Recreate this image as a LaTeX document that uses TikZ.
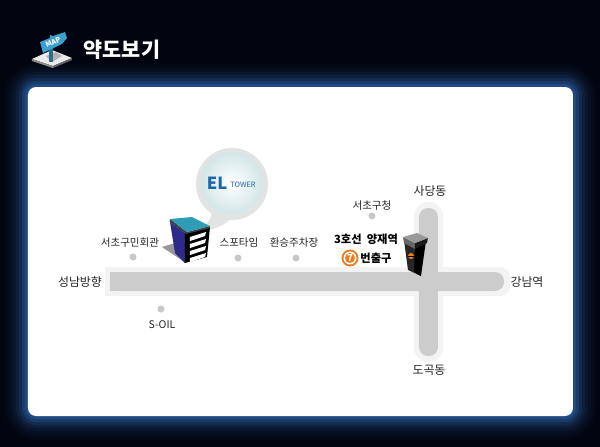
\documentclass[tikz,border=0pt]{standalone}
\usepackage{fontspec}
\setmainfont{Noto Sans CJK KR}
\usetikzlibrary{shadings}
\definecolor{night}{HTML}{02040F}
\definecolor{glow}{HTML}{22528F}
\definecolor{road}{HTML}{CCCCCC}
\definecolor{halo}{HTML}{F3F3F3}
\definecolor{spot}{HTML}{C8C8C8}
\definecolor{skyblue}{HTML}{3B9FD0}
\definecolor{eltext}{HTML}{1E66A8}
\definecolor{roof}{HTML}{2F9DB5}
\definecolor{wall}{HTML}{2E2A8C}
\definecolor{exitorange}{HTML}{F07A1E}
\definecolor{bubblerim}{HTML}{E2E4E4}
\definecolor{bubbleedge}{HTML}{D3E6E8}
\tikzset{
  place/.style={font=\fontsize{6pt}{7pt}\selectfont,text=black!85,inner sep=0pt},
  bigplace/.style={place,font=\fontsize{6.8pt}{7pt}\selectfont},
  strong/.style={place,font=\fontsize{6.4pt}{7pt}\selectfont\bfseries,text=black},
  spotmark/.style={circle,fill=spot,minimum size=4mm*.35,inner sep=0pt}
}
\begin{document}
\begin{tikzpicture}[x=.02cm,y=-.02cm]
\fill[night] (0,0) rectangle (600,447);
% glow round the panel
\foreach \r/\m in {24/4,21/9,18/15,15/23,12/34,9/50,6/70,3/90}
  \fill[glow!\m!night,rounded corners=.02cm*(8+\r)] (28-\r,87-\r) rectangle (573+\r,416+\r);
\fill[white,rounded corners=.16cm] (28,87) rectangle (573,416);
% roads
\fill[halo,rounded corners=.2cm] (105,267) rectangle (510,296);
\fill[halo] (105,267) rectangle (125,296);
\fill[halo,rounded corners=.28cm] (414,202) rectangle (443,362);
\fill[road,rounded corners=.18cm] (110,272) rectangle (504,291);
\fill[road] (110,272) rectangle (125,291);
\fill[road,rounded corners=.18cm] (419,208) rectangle (438,356);
% small marks
\node[spotmark] (hall) at (133,257) {};
\node[spotmark] (sports) at (238,258) {};
\node[spotmark] (transfer) at (296,258) {};
\node[spotmark] (office) at (372,216) {};
\node[spotmark] (oil) at (161,309) {};
% labels
\node[place] (hallname) at (130,243) {서초구민회관};
\node[place] (sportsname) at (239,243) {스포타임};
\node[place] (transfername) at (294,243) {환승주차장};
\node[place] (officename) at (372,206) {서초구청};
\node[place] (oilname) at (162,325) {S-OIL};
\node[bigplace] (west) at (80,282) {성남방향};
\node[bigplace] (east) at (527,282) {강남역};
\node[bigplace] (north) at (430,191) {사당동};
\node[bigplace] (south) at (429,370) {도곡동};
\node[strong] (station) at (366,239) {3호선\ \ 양재역};
\node[strong] (exitname) at (376,258) {번출구};
\fill[exitorange] (350,258) circle (8.5);
\fill[white] (350,258) circle (6.5);
\node[circle,fill=exitorange,text=white,minimum size=.2cm,inner sep=0pt,
  font=\fontsize{5.5pt}{6pt}\selectfont\bfseries] (exitno) at (350,258) {7};
% title with map sign
\node[font=\fontsize{11.8pt}{12pt}\selectfont\bfseries,text=white,inner sep=0pt] (title) at (122,50) {약도보기};
\fill[black!8] (32,59) -- (52,50) -- (72,58) -- (53,66) -- cycle;
\fill[black!45] (32,59) -- (53,66) -- (53,68) -- (32,61) -- cycle;
\fill[black!60] (53,66) -- (72,58) -- (72,60) -- (53,68) -- cycle;
\fill[black!30] (46,56) -- (56,52) -- (62,56) -- (52,62) -- cycle;
\fill[skyblue!70!black] (49,48) rectangle (53,62);
\fill[skyblue] (40,42) -- (50,38) -- (50,35) -- (53,36) -- (65,32) -- (67,38) -- (62,44) -- (43,53) -- cycle;
\node[font=\fontsize{4pt}{4pt}\selectfont\bfseries\itshape,text=white,rotate=24,inner sep=0pt] (signtext) at (53,42) {MAP};
% speech bubble
\fill[bubblerim] (212,212) .. controls (210,222) and (205,226) .. (198,230) .. controls (212,232) and (224,226) .. (234,216) -- cycle;
\fill[bubblerim] (232,184) circle (36);
\shade[inner color=white,outer color=bubbleedge] (232,183) circle (31);
\node[font=\fontsize{9.5pt}{10pt}\selectfont,text=eltext,inner sep=0pt] (eltitle) at (217,183) {\textbf{EL}};
\node[font=\fontsize{4.2pt}{4pt}\selectfont,text=eltext,inner sep=0pt] (tower) at (243,185) {TOWER};
% main building
\fill[black!40] (162,247) -- (175,243) -- (186,263) -- cycle;
\fill[wall] (170,222) -- (185,233) -- (185,263) -- (175,253) -- cycle;
\fill[black] (185,233) -- (210,227) -- (207,257) -- (185,263) -- cycle;
\fill[black!75] (170,219) -- (187,232) -- (210,226) -- (210,228) -- (186,234) -- (170,222) -- cycle;
\fill[roof] (170,219) -- (192,217) -- (210,226) -- (187,232) -- cycle;
\foreach \y in {0,7,14,21}
  \fill[white] (190,237+\y) -- (206,232+\y) -- (205,236+\y) -- (190,241+\y) -- cycle;
% station tower
\fill[black!85] (404,240) -- (415,248) -- (421,276) -- (408,270) -- cycle;
\fill[black] (415,245) -- (426,241) -- (421,276) -- (414,272) -- cycle;
\fill[black!60] (403,237) -- (415,243) -- (415,249) -- (404,243) -- cycle;
\fill[black!90] (415,243) -- (428,238) -- (427,243) -- (415,249) -- cycle;
\fill[black!40] (403,237) -- (417,233) -- (428,238) -- (415,243) -- cycle;
\fill[exitorange] (411,256) circle (3);
\draw[black,line width=.3pt] (408,256) -- (414,256);
\end{tikzpicture}
\end{document}
